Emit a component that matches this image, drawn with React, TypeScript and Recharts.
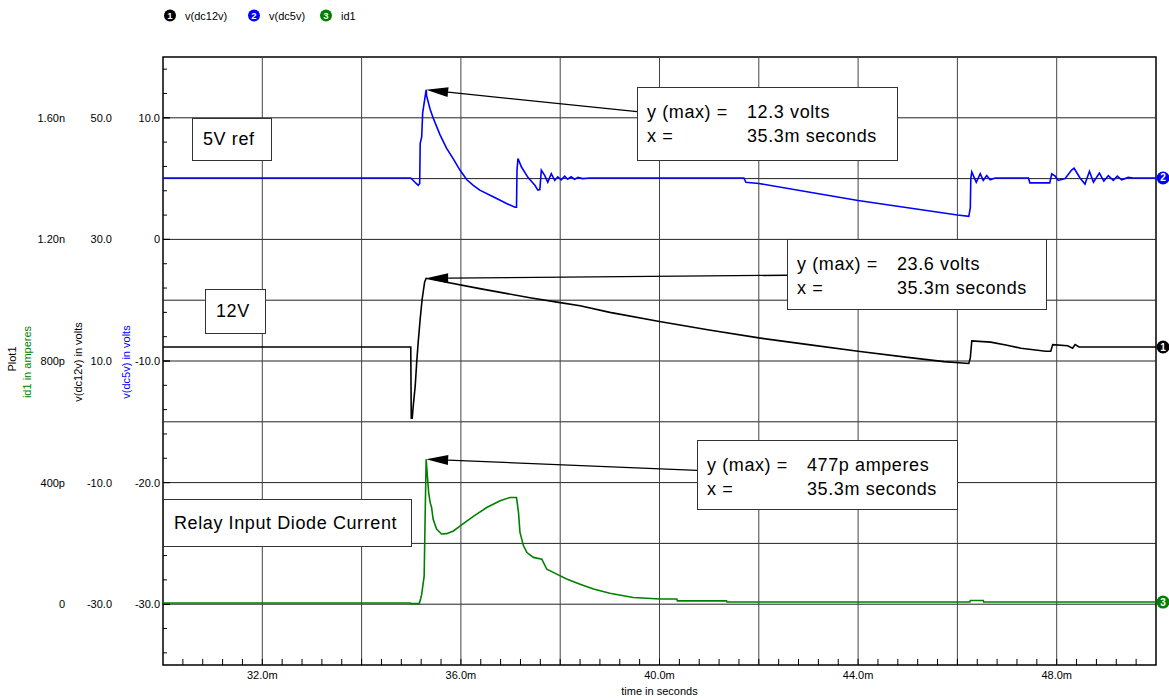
import { LineChart, Line, XAxis, YAxis, ReferenceLine, ReferenceDot, ReferenceArea } from "recharts"

const FONT = '"Liberation Sans", Arial, Helvetica, sans-serif'

// time in ms, value in volts
const dc12v: [number, number][] = [
  [30, 12.3], [34.99, 12.3], [35.0, 0.6], [35.02, 0.6], [35.04, 2.6], [35.08, 5.9], [35.11, 9.8],
  [35.14, 13.1], [35.18, 16.9], [35.22, 20.2], [35.27, 23.0], [35.3, 23.6], [36.38, 21.9],
  [37.39, 20.4], [38.0, 19.6], [38.4, 19.1], [39.0, 18.0], [40.0, 16.5], [41.0, 15.1], [42.0, 13.8],
  [43.0, 12.7], [44.0, 11.6], [45.0, 10.6], [45.73, 9.9], [46.23, 9.6], [46.26, 10.5], [46.29, 13.3],
  [46.67, 13.1], [47.0, 12.6], [47.28, 12.1], [47.78, 11.6], [47.88, 11.6], [47.92, 12.7], [48.22, 12.5],
  [48.32, 12.1], [48.37, 12.7], [48.45, 12.3], [50, 12.3],
]

const dc5v: [number, number][] = [
  [30, 5.05], [34.99, 5.05], [35.1, 4.6], [35.14, 4.45], [35.17, 4.6], [35.18, 7.9], [35.21, 8.4],
  [35.23, 10.4], [35.3, 12.3], [35.31, 11.8], [35.38, 10.7], [35.44, 10.0], [35.58, 8.6], [35.71, 7.5],
  [35.85, 6.6], [35.98, 5.7], [36.12, 4.9], [36.25, 4.45], [36.38, 4.05], [36.65, 3.5], [36.92, 2.95],
  [37.09, 2.65], [37.12, 2.65], [37.13, 5.7], [37.15, 6.65], [37.22, 5.95], [37.35, 5.1], [37.49, 4.45],
  [37.55, 4.05], [37.59, 4.1], [37.62, 5.7], [37.69, 5.25], [37.75, 4.7], [37.82, 5.4], [37.89, 4.85],
  [37.95, 5.15], [38.02, 4.9], [38.09, 5.2], [38.15, 4.95], [38.22, 5.15], [38.29, 4.95], [38.36, 5.1],
  [38.45, 5.0], [38.6, 5.05], [41.7, 5.05], [41.74, 4.7], [42.0, 4.6], [43.0, 3.9], [44.0, 3.2],
  [45.0, 2.6], [46.0, 2.0], [46.23, 1.9], [46.26, 2.6], [46.27, 5.0], [46.29, 5.55], [46.38, 4.7],
  [46.46, 5.4], [46.52, 4.85], [46.59, 5.25], [46.66, 4.9], [46.76, 5.05], [47.43, 5.05], [47.46, 4.65],
  [47.86, 4.65], [47.9, 5.4], [47.97, 5.2], [48.03, 4.85], [48.17, 5.0], [48.3, 5.7], [48.35, 5.85],
  [48.47, 5.05], [48.57, 4.55], [48.66, 5.6], [48.74, 4.7], [48.86, 5.45], [48.95, 4.8], [49.04, 5.25],
  [49.14, 4.85], [49.22, 5.2], [49.31, 4.9], [49.44, 5.1], [49.54, 5.05], [50, 5.05],
]

// time in ms, current in pA
const id1: [number, number][] = [
  [30, 4], [34.98, 4], [35.0, 2], [35.16, 2], [35.19, 18], [35.21, 32], [35.26, 92], [35.28, 290],
  [35.3, 477], [35.35, 368], [35.38, 335], [35.41, 318], [35.44, 280], [35.51, 247], [35.61, 231],
  [35.71, 232], [35.85, 241], [35.98, 257], [36.25, 289], [36.52, 318], [36.79, 340], [36.99, 351],
  [37.12, 351], [37.16, 302], [37.19, 236], [37.26, 192], [37.33, 170], [37.46, 154], [37.63, 148],
  [37.73, 115], [37.93, 99], [38.13, 83], [38.4, 66], [38.67, 50], [39.0, 36], [39.47, 22], [40.01, 17],
  [40.35, 17], [40.36, 11], [41.35, 11], [41.36, 7], [46.25, 7], [46.26, 12], [46.52, 12], [46.53, 7],
  [50, 7],
]

const timeTicks = [32, 36, 40, 44, 48]
const gridTimes = [32, 34, 36, 38, 40, 42, 44, 46, 48]
const dc5vTicks = [-30, -20, -10, 0, 10]
const gridLevels = [-30, -25, -20, -15, -10, -5, 0, 5, 10]
const dc12vTicks = [-30, -10, 10, 30, 50]
const id1Ticks = [0, 400, 800, 1200, 1600]
const minorTimes = Array.from({ length: 49 }, (_, i) => +(30.4 + i * 0.4).toFixed(1))
const minorLevels = Array.from({ length: 25 }, (_, i) => -34 + i * 2)

const toRows = (pts: [number, number][]) => pts.map(([t, v]) => ({ t, v }))
const peakOf = (pts: [number, number][]) => pts.reduce((a, b) => (b[1] > a[1] ? b : a))

// axis ids are chosen so that their sort order matches the left-to-right stacking
const AX5 = "a_dc5v"
const AX12 = "b_dc12v"
const AXI = "c_id1"

const series = [
  { id: "dc12v", name: "v(dc12v)", num: "1", color: "#000000", axis: AX12, pts: dc12v, tail: { t: 42.57, v: 24.1 } },
  { id: "dc5v", name: "v(dc5v)", num: "2", color: "#0000ff", axis: AX5, pts: dc5v, tail: { t: 39.55, v: 10.5 } },
  { id: "id1", name: "id1", num: "3", color: "#008000", axis: AXI, pts: id1, tail: { t: 40.76, v: 440 } },
]

const fmtVolts = (v: number) => (v === 0 ? "0" : v.toFixed(1))
const fmtAmps = (v: number) => (v === 0 ? "0" : v < 1000 ? `${v}p` : `${(v / 1000).toFixed(2)}n`)

function Arrow(props: any) {
  const { x1, y1, x2, y2 } = props
  const dx = x2 - x1
  const dy = y2 - y1
  const len = Math.hypot(dx, dy) || 1
  const ux = dx / len
  const uy = dy / len
  const bx = x1 + ux * 22
  const by = y1 + uy * 22
  const hw = 5
  return (
    <g>
      <line x1={bx} y1={by} x2={x2} y2={y2} stroke="#000" strokeWidth={1.3} />
      <polygon points={`${x1},${y1} ${bx - uy * hw},${by + ux * hw} ${bx + uy * hw},${by - ux * hw}`} fill="#000" />
    </g>
  )
}

function EndMarker(props: any) {
  const { cx, cy, color, num } = props
  return (
    <g>
      <circle cx={cx + 7} cy={cy} r={6.5} fill={color} />
      <text x={cx + 7} y={cy} dy="0.35em" textAnchor="middle" fill="#fff" fontSize={10} fontWeight="bold" fontFamily={FONT}>
        {num}
      </text>
    </g>
  )
}

const boxStyle: any = {
  position: "absolute",
  boxSizing: "border-box",
  border: "1px solid #333",
  background: "#fff",
  fontFamily: FONT,
  fontSize: 18,
  letterSpacing: 0.6,
  color: "#000",
}

function LabelBox({ left, top, width, height, text }: any) {
  return (
    <div style={{ ...boxStyle, left, top, width, height, display: "flex", alignItems: "center", paddingLeft: 10, whiteSpace: "nowrap" }}>
      {text}
    </div>
  )
}

function MaxBox({ left, top, width, height, rows }: any) {
  return (
    <div style={{ ...boxStyle, left, top, width, height }}>
      {rows.map((r: string[], i: number) => (
        <div key={i} style={{ position: "absolute", left: 9, top: 13 + i * 24, lineHeight: "22px", whiteSpace: "pre" }}>
          <span>{r[0]}</span>
          <span style={{ position: "absolute", left: 100, whiteSpace: "pre" }}>{r[1]}</span>
        </div>
      ))}
    </div>
  )
}

export default function App() {
  const tick = { fontSize: 11, fill: "#000", fontFamily: FONT }
  const pk12 = peakOf(dc12v)
  const pk5 = peakOf(dc5v)
  const pkI = peakOf(id1)
  return (
    <div style={{ position: "absolute", left: 0, top: 0, width: 1169, height: 698, background: "#fff" }}>
      <LineChart width={1169} height={698} margin={{ top: 57, right: 13, bottom: 0, left: 20 }}>
        <XAxis
          xAxisId="time"
          dataKey="t"
          type="number"
          domain={[30, 50]}
          ticks={timeTicks}
          interval={0}
          allowDataOverflow
          tickFormatter={(t: number) => `${t.toFixed(1)}m`}
          height={33}
          tickSize={0}
          tickMargin={6}
          axisLine={false}
          tickLine={false}
          tick={tick}
          label={{ value: "time in seconds", position: "insideBottom", offset: 3, fontSize: 11, fill: "#000", fontFamily: FONT }}
        />
        <YAxis
          yAxisId={AX5}
          type="number"
          domain={[-35, 15]}
          ticks={dc5vTicks}
          interval={0}
          allowDataOverflow
          width={48}
          tickFormatter={fmtVolts}
          tickSize={0}
          tickMargin={3}
          axisLine={false}
          tickLine={false}
          tick={tick}
        />
        <YAxis
          yAxisId={AX12}
          type="number"
          domain={[-40, 60]}
          ticks={dc12vTicks}
          interval={0}
          allowDataOverflow
          width={47}
          tickFormatter={fmtVolts}
          tickSize={0}
          tickMargin={3}
          axisLine={false}
          tickLine={false}
          tick={tick}
        />
        <YAxis
          yAxisId={AXI}
          type="number"
          domain={[-200, 1800]}
          ticks={id1Ticks}
          interval={0}
          allowDataOverflow
          width={48}
          tickFormatter={fmtAmps}
          tickSize={0}
          tickMargin={3}
          axisLine={false}
          tickLine={false}
          tick={tick}
        />

        {gridLevels.map((v) => (
          <ReferenceLine key={`h${v}`} y={v} xAxisId="time" yAxisId={AX5} stroke="#222" strokeWidth={1} />
        ))}
        {gridTimes.map((t) => (
          <ReferenceLine key={`v${t}`} x={t} xAxisId="time" yAxisId={AX5} stroke="#444" strokeWidth={1} />
        ))}

        {/* small inward tick marks on the left and bottom frame */}
        {minorLevels.map((v) => (
          <ReferenceLine
            key={`yt${v}`}
            xAxisId="time"
            yAxisId={AX5}
            segment={[{ x: 30, y: v }, { x: dc5vTicks.includes(v + 0) ? 30.14 : 30.08, y: v }]}
            stroke="#000"
            strokeWidth={1}
          />
        ))}
        {dc5vTicks.map((v) => (
          <ReferenceLine key={`ym${v}`} xAxisId="time" yAxisId={AX5} segment={[{ x: 30, y: v }, { x: 30.14, y: v }]} stroke="#000" strokeWidth={1} />
        ))}
        {minorTimes.map((t) => (
          <ReferenceLine key={`xt${t}`} xAxisId="time" yAxisId={AX5} segment={[{ x: t, y: -35 }, { x: t, y: -34.5 }]} stroke="#000" strokeWidth={1} />
        ))}

        {series.map((s) => (
          <Line
            key={s.id}
            data={toRows(s.pts)}
            dataKey="v"
            xAxisId="time"
            yAxisId={s.axis}
            type="linear"
            stroke={s.color}
            strokeWidth={1.6}
            dot={false}
            isAnimationActive={false}
          />
        ))}

        <ReferenceArea
          x1={30}
          x2={50}
          y1={-35}
          y2={15}
          xAxisId="time"
          yAxisId={AX5}
          fill="none"
          fillOpacity={0}
          stroke="#000"
          strokeWidth={1.5}
          ifOverflow="visible"
        />

        {series.map((s) => {
          const pk = peakOf(s.pts)
          return (
            <ReferenceLine
              key={`a${s.id}`}
              xAxisId="time"
              yAxisId={s.axis}
              segment={[{ x: pk[0], y: pk[1] }, { x: s.tail.t, y: s.tail.v }]}
              ifOverflow="visible"
              shape={(p: any) => <Arrow {...p} />}
            />
          )
        })}

        {series.map((s) => (
          <ReferenceDot
            key={`m${s.id}`}
            x={50}
            y={s.pts[s.pts.length - 1][1]}
            xAxisId="time"
            yAxisId={s.axis}
            r={0}
            ifOverflow="visible"
            shape={(p: any) => <EndMarker {...p} color={s.color} num={s.num} />}
          />
        ))}
      </LineChart>

      <svg width={1169} height={698} style={{ position: "absolute", left: 0, top: 0, pointerEvents: "none" }} fontFamily={FONT}>
        {series.map((s, i) => {
          const cx = [170, 254, 326][i]
          return (
            <g key={s.id}>
              <circle cx={cx} cy={15.5} r={6} fill={s.color} />
              <text x={cx} y={15.5} dy="0.35em" textAnchor="middle" fill="#fff" fontSize={9.5} fontWeight="bold">
                {s.num}
              </text>
              <text x={cx + 15} y={19.5} fontSize={11} fill="#000">
                {s.name}
              </text>
            </g>
          )
        })}
        <text transform="rotate(-90 12 359)" x={12} y={359} textAnchor="middle" dominantBaseline="central" fontSize={11} fill="#000">
          Plot1
        </text>
        <text transform="rotate(-90 27 362)" x={27} y={362} textAnchor="middle" dominantBaseline="central" fontSize={11} fill="#008000">
          id1 in amperes
        </text>
        <text transform="rotate(-90 77.5 362)" x={77.5} y={362} textAnchor="middle" dominantBaseline="central" fontSize={11} fill="#000">
          v(dc12v) in volts
        </text>
        <text transform="rotate(-90 125.5 362)" x={125.5} y={362} textAnchor="middle" dominantBaseline="central" fontSize={11} fill="#0000ff">
          v(dc5v) in volts
        </text>
      </svg>

      <LabelBox left={192} top={118} width={80} height={43} text="5V ref" />
      <LabelBox left={205} top={289} width={61} height={45} text="12V" />
      <LabelBox left={163} top={499} width={249} height={48} text="Relay Input Diode Current" />
      <MaxBox
        left={637}
        top={87}
        width={261}
        height={74}
        rows={[["y (max) =", `${pk5[1].toFixed(1)} volts`], ["x =", `${pk5[0].toFixed(1)}m seconds`]]}
      />
      <MaxBox
        left={787}
        top={239}
        width={260}
        height={71}
        rows={[["y (max) =", `${pk12[1].toFixed(1)} volts`], ["x =", `${pk12[0].toFixed(1)}m seconds`]]}
      />
      <MaxBox
        left={697}
        top={440}
        width={261}
        height={70}
        rows={[["y (max) =", `${pkI[1]}p amperes`], ["x =", `${pkI[0].toFixed(1)}m seconds`]]}
      />
    </div>
  )
}
